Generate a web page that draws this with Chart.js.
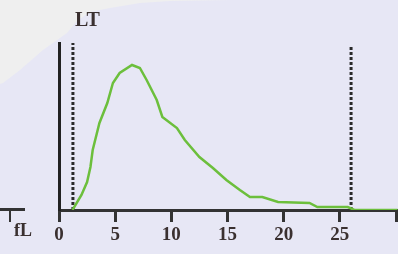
<!DOCTYPE html>
<html>
<head>
<meta charset="utf-8">
<script src="https://cdn.jsdelivr.net/npm/chart.js@4/dist/chart.umd.min.js"></script>
<style>
  html, body { margin:0; padding:0; width:398px; height:254px; overflow:hidden; background:#e7e7f5; }
  #wrap { position:relative; width:398px; height:254px; }
  #paper { position:absolute; left:0; top:0; width:398px; height:254px; background:#efefef;
    clip-path: polygon(0 0, 230px 0, 170px 1px, 140px 3px, 110px 8px, 90px 12px, 77px 21px, 67px 33px, 43px 50px, 20px 70px, 3px 83px, 0 84px); }
  canvas { position:absolute; left:0; top:0; }
  .lbl { position:absolute; font-family:"Liberation Serif", serif; font-weight:bold; color:#3a3030; }
  #stub { position:absolute; left:0; top:208px; width:25px; height:0; border-top:3px solid #333; }
  #stubtick { position:absolute; left:9px; top:209px; width:0; height:13px; border-left:2px solid #333; }
</style>
</head>
<body>
<div id="wrap">
  <div id="paper"></div>
  <canvas id="c" width="398" height="254"></canvas>
  <div class="lbl" style="left:75px; top:8px; font-size:20px;">LT</div>
  <div id="stub"></div>
  <div id="stubtick"></div>
  <div class="lbl" style="left:14px; top:220px; font-size:18px;">fL</div>
</div>
<script>
// Histogram curve (fL, relative count)
const sizesFL = [1.2, 2.0, 2.5, 2.8, 3.0, 3.6, 4.3, 4.8, 5.4, 6.5, 7.2, 7.8, 8.7, 9.2, 10.5, 11.2, 12.5, 13.7, 14.9, 16.1, 17.0, 18.1, 19.5, 22.3, 23.0, 25.7, 26.3, 30.2];
const counts  = [0, 15, 28, 43, 60, 87, 107, 127, 137, 145, 142, 130, 110, 93, 82, 70, 53, 42, 30, 20, 13, 13, 8, 7, 3, 3, 0, 0];
// discriminator (threshold) lines
const lowerLimit = 1.24;
const upperLimit = 26.0;
const lowerTop = 167;
const upperTop = 165;
const xTicks = [0, 5, 10, 15, 20, 25, 30];
const xTickLabels = ["0", "5", "10", "15", "20", "25", ""];

const curve = sizesFL.map((x, i) => ({x, y: counts[i]}));

new Chart(document.getElementById('c'), {
  type: 'scatter',
  data: {
    datasets: [
      { data: curve, showLine: true, borderColor: '#6cbf3c', borderWidth: 2.5, pointRadius: 0, tension: 0 },
      { data: [{x: lowerLimit, y: 0}, {x: lowerLimit, y: lowerTop}], showLine: true, borderColor: '#2a2a2a', borderWidth: 3, borderDash: [3, 2], pointRadius: 0 },
      { data: [{x: upperLimit, y: 0}, {x: upperLimit, y: upperTop}], showLine: true, borderColor: '#2a2a2a', borderWidth: 3, borderDash: [3, 2], pointRadius: 0 }
    ]
  },
  options: {
    responsive: false,
    animation: false,
    events: [],
    layout: { padding: { top: 43, right: 0, left: 0, bottom: 0 } },
    plugins: { legend: { display: false }, tooltip: { enabled: false } },
    scales: {
      x: {
        type: 'linear', min: 0, max: 30.13,
        afterBuildTicks: s => { s.ticks = xTicks.map(v => ({value: v})); },
        afterFit: s => { s.height = 44; },
        grid: { display: true, drawOnChartArea: false, drawTicks: true, tickLength: 12, color: '#333', lineWidth: 3 },
        border: { display: true, color: '#333', width: 3 },
        ticks: {
          padding: 2, color: '#3a3030', maxRotation: 0, autoSkip: false,
          font: { family: "'Liberation Serif', serif", size: 19, weight: 'bold' },
          callback: (v) => xTickLabels[xTicks.indexOf(v)] ?? ''
        }
      },
      y: {
        type: 'linear', min: 0, max: 167,
        afterFit: s => { s.width = 59; },
        grid: { display: false, drawTicks: false },
        border: { display: true, color: '#222', width: 3 },
        ticks: { display: false }
      }
    }
  }
});
</script>
</body>
</html>
